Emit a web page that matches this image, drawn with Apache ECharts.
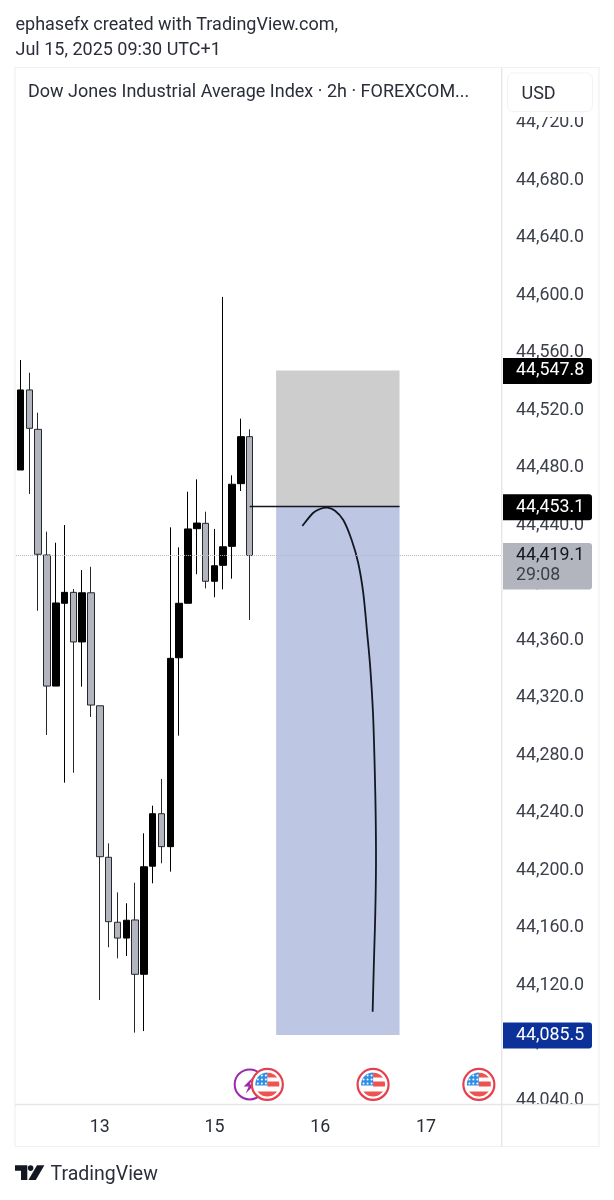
<!DOCTYPE html>
<html>
<head>
<meta charset="utf-8">
<style>
html, body { margin: 0; padding: 0; background: #fff; }
#main { width: 614px; height: 1200px; }
</style>
<script src="https://cdn.jsdelivr.net/npm/echarts@6/dist/echarts.min.js"></script>
</head>
<body>
<div id="main"></div>
<script>
// open, close, low, high
var candles = [
    [44478.6, 44534.3, 44478.6, 44555.1],
    [44534.3, 44507.6, 44461.9, 44546.3],
    [44506.9, 44420.0, 44380.7, 44518.5],
    [44419.5, 44328.3, 44294.3, 44435.7],
    [44328.3, 44386.1, 44328.3, 44428.0],
    [44385.9, 44393.5, 44261.1, 44440.3],
    [44393.5, 44359.0, 44268.0, 44395.8],
    [44359.0, 44393.2, 44327.9, 44409.0],
    [44393.2, 44315.1, 44306.8, 44411.3],
    [44314.6, 44209.6, 44109.9, 44314.6],
    [44209.2, 44164.4, 44146.6, 44218.9],
    [44164.0, 44153.0, 44138.9, 44184.8],
    [44153.0, 44165.4, 44140.5, 44177.2],
    [44165.6, 44127.8, 44087.2, 44191.5],
    [44127.8, 44202.6, 44088.3, 44225.9],
    [44203.0, 44239.5, 44191.1, 44245.1],
    [44239.5, 44216.6, 44205.0, 44263.7],
    [44216.6, 44347.6, 44199.2, 44438.7],
    [44348.0, 44385.9, 44293.8, 44424.8],
    [44385.9, 44437.6, 44385.9, 44463.5],
    [44437.8, 44441.7, 44406.1, 44472.1],
    [44441.5, 44401.2, 44396.3, 44449.6],
    [44401.2, 44412.0, 44390.1, 44437.6],
    [44412.3, 44425.2, 44395.6, 44599.0],
    [44425.5, 44468.7, 44403.0, 44474.9],
    [44469.1, 44501.8, 44464.0, 44514.3],
    [44501.8, 44419.1, 44374.3, 44506.9]
];

// hand drawn arrow, [bar index, price]
var curve = [
    [31.97, 44439.7], [33.18, 44448.7], [33.98, 44451.5], [34.80, 44452.4],
    [35.68, 44450.3], [36.62, 44443.8], [37.57, 44429.9], [38.32, 44413.7],
    [38.89, 44392.8], [39.33, 44365.0], [39.67, 44341.8], [39.99, 44309.4],
    [40.17, 44274.8], [40.29, 44240.0], [40.33, 44205.2],
    [40.25, 44170.4], [40.09, 44135.7], [39.95, 44101.8]
];

var yTicks = [44720, 44680, 44640, 44600, 44560, 44520, 44480, 44440, 44400, 44360,
    44320, 44280, 44240, 44200, 44160, 44120, 44080, 44040];
var dayLabels = {9: '13', 22: '15', 34: '16', 46: '17'};
var barCount = 55;

var positionStart = 29;
var positionEnd = 43;
var stopPrice = 44547.8;
var entryPrice = 44453.1;
var targetPrice = 44085.5;
var lastPrice = 44419.1;
var countdown = '29:08';

var splitEvents = [26];
var usEvents = [28, 40, 52];
var eventPrice = 44051.2;

var categories = [];
for (var i = 0; i < barCount; i++) {
    categories.push(dayLabels[i] || '');
}

var textColor = '#2a2e39';
var frameColor = '#f1f1f1';
var fontName = 'Roboto';

function fmt(v) {
    return v.toLocaleString('en-US', {minimumFractionDigits: 1, maximumFractionDigits: 1});
}

// price tags on the right scale
var priceTags = [
    {value: [0, stopPrice], fill: '#000000', text: '#ffffff'},
    {value: [0, entryPrice], fill: '#000000', text: '#ffffff'},
    {value: [0, lastPrice], fill: '#b2b5be', text: '#131722', sub: countdown},
    {value: [0, targetPrice], fill: '#0c3299', text: '#ffffff'}
];

function renderTag(params, api) {
    var y = api.coord([0, api.value(1)])[1] + 0.5;
    var tag = priceTags[params.dataIndex];
    var children = [{
        type: 'rect',
        shape: {x: 503, y: y - 13, width: 89, height: tag.sub ? 46.5 : 26, r: [0, 3, 3, 0]},
        style: {fill: tag.fill}
    }, {
        type: 'text',
        style: {x: 516, y: y, text: fmt(api.value(1)), fill: tag.text,
            font: '17.8px ' + fontName, textVerticalAlign: 'middle'}
    }];
    if (tag.sub) {
        children.push({
            type: 'text',
            style: {x: 516, y: y + 20, text: tag.sub, fill: '#3c404b',
                font: '17.8px ' + fontName, textVerticalAlign: 'middle'}
        });
    }
    return {type: 'group', children: children};
}

function renderSplit(params, api) {
    var p = api.coord([api.value(0), api.value(1)]);
    return {
        type: 'group', x: p[0], y: p[1],
        children: [{
            type: 'circle', shape: {cx: 0, cy: 0, r: 15},
            style: {fill: '#fff', stroke: '#9c27b0', lineWidth: 2}
        }, {
            type: 'polygon',
            shape: {points: [[3, -7], [-6, 2], [-1, 2], [-4, 9], [5, 0], [0, 0]]},
            style: {fill: '#9c27b0'}
        }]
    };
}

function renderFlag(params, api) {
    var p = api.coord([api.value(0), api.value(1)]);
    var flag = [
        {type: 'rect', shape: {x: -13, y: -13, width: 26, height: 26}, style: {fill: '#ffffff'}},
        {type: 'rect', shape: {x: 0, y: -12, width: 13, height: 5}, style: {fill: '#ef5350'}},
        {type: 'rect', shape: {x: 0, y: -3, width: 13, height: 5}, style: {fill: '#ef5350'}},
        {type: 'rect', shape: {x: -13, y: 7, width: 26, height: 6}, style: {fill: '#ef5350'}},
        {type: 'rect', shape: {x: -13, y: -13, width: 13, height: 14}, style: {fill: '#2f8fe6'}}
    ];
    for (var r = 0; r < 3; r++) {
        for (var c = 0; c < 3; c++) {
            flag.push({
                type: 'circle',
                shape: {cx: -9.5 + c * 4, cy: -9 + r * 4, r: 1},
                style: {fill: '#ffffff'}
            });
        }
    }
    return {
        type: 'group', x: p[0], y: p[1],
        children: [{
            type: 'circle', shape: {cx: 0, cy: 0, r: 15.5},
            style: {fill: '#fff', stroke: '#e5404f', lineWidth: 2.2}
        }, {
            type: 'group',
            clipPath: {type: 'circle', shape: {cx: 0, cy: 0, r: 12}},
            children: flag
        }]
    };
}

// the line series smoothing leaves kinks here, so join the readings with a spline
function renderCurve(params, api) {
    if (params.dataIndex !== 0) {
        return null;
    }
    var pts = curve.map(function (d) { return api.coord(d); });
    var path = 'M' + pts[0][0] + ' ' + pts[0][1];
    for (var i = 0; i < pts.length - 1; i++) {
        var p0 = pts[Math.max(i - 1, 0)];
        var p1 = pts[i];
        var p2 = pts[i + 1];
        var p3 = pts[Math.min(i + 2, pts.length - 1)];
        path += 'C' + (p1[0] + (p2[0] - p0[0]) / 6) + ' ' + (p1[1] + (p2[1] - p0[1]) / 6) +
            ' ' + (p2[0] - (p3[0] - p1[0]) / 6) + ' ' + (p2[1] - (p3[1] - p1[1]) / 6) +
            ' ' + p2[0] + ' ' + p2[1];
    }
    return {
        type: 'path',
        shape: {pathData: path},
        style: {fill: 'none', stroke: '#131722', lineWidth: 1.8, lineJoin: 'round'}
    };
}

var myChart = echarts.init(document.getElementById('main'), null, {renderer: 'canvas'});
var option = {
    animation: false,
    backgroundColor: '#ffffff',
    textStyle: {fontFamily: fontName},
    grid: {left: 16.1, top: 68, width: 484.8, height: 1036},
    xAxis: [
        {
            type: 'category',
            data: categories,
            axisLine: {show: false},
            axisTick: {show: false},
            splitLine: {show: false},
            axisLabel: {
                interval: function (index, value) { return value !== ''; },
                color: textColor, fontSize: 17.8, fontFamily: fontName, margin: 15
            }
        },
        {
            type: 'value',
            min: -0.5,
            max: barCount - 0.5,
            show: false
        }
    ],
    yAxis: {
        type: 'value',
        position: 'right',
        min: 44037.57,
        max: 44758.26,
        scale: true,
        axisLine: {show: false},
        axisTick: {show: false},
        splitLine: {show: false},
        axisLabel: {
            customValues: yTicks,
            formatter: function (v) { return fmt(v); },
            color: '#3c404b', fontSize: 17.8, fontFamily: fontName, margin: 15
        }
    },
    series: [
        {
            // long position tool
            type: 'line',
            xAxisIndex: 1,
            z: 1,
            data: [],
            markArea: {
                silent: true,
                data: [
                    [{coord: [positionStart, stopPrice], itemStyle: {color: '#cdcdcd'}},
                        {coord: [positionEnd, entryPrice]}],
                    [{coord: [positionStart, entryPrice], itemStyle: {color: '#bdc7e4'}},
                        {coord: [positionEnd, targetPrice]}]
                ]
            }
        },
        {
            type: 'candlestick',
            xAxisIndex: 0,
            z: 2,
            barWidth: 7,
            data: candles,
            itemStyle: {
                color: '#000000',
                color0: '#b2b5be',
                borderColor: '#000000',
                borderColor0: '#26282e',
                borderWidth: 1
            }
        },
        {
            type: 'line',
            xAxisIndex: 1,
            z: 3,
            data: [],
            markLine: {
                silent: true,
                symbol: 'none',
                label: {show: false},
                data: [
                    [{coord: [-0.5, lastPrice], lineStyle: {color: '#b2b5be', type: 'dotted', width: 1}},
                        {coord: [barCount - 0.5, lastPrice]}],
                    [{coord: [candles.length - 1, entryPrice], lineStyle: {color: '#131722', type: 'solid', width: 1.4}},
                        {coord: [positionEnd, entryPrice]}]
                ]
            }
        },
        {
            type: 'custom',
            xAxisIndex: 1,
            z: 3,
            renderItem: renderCurve,
            data: curve
        },
        {
            type: 'custom',
            xAxisIndex: 1,
            z: 4,
            renderItem: renderSplit,
            data: splitEvents.map(function (x) { return [x, eventPrice]; })
        },
        {
            type: 'custom',
            xAxisIndex: 1,
            z: 5,
            renderItem: renderFlag,
            data: usEvents.map(function (x) { return [x, eventPrice]; })
        }
    ],
    graphic: [
        // covers for the clipped scale labels
        {type: 'rect', z: 10, shape: {x: 503, y: 68, width: 95, height: 49}, style: {fill: '#fff'}},
        {type: 'rect', z: 10, shape: {x: 503, y: 1105, width: 95, height: 40}, style: {fill: '#fff'}},
        // frame
        {type: 'rect', z: 11, shape: {x: 15, y: 67.5, width: 584, height: 1079}, style: {fill: 'none', stroke: frameColor, lineWidth: 1.2}},
        {type: 'line', z: 11, shape: {x1: 501.7, y1: 67.5, x2: 501.7, y2: 1146.5}, style: {stroke: '#e6e6e6', lineWidth: 1.4}},
        {type: 'line', z: 11, shape: {x1: 15, y1: 1104.5, x2: 599, y2: 1104.5}, style: {stroke: '#e6e6e6', lineWidth: 1.4}},
        // USD button
        {type: 'rect', z: 12, shape: {x: 507.5, y: 73, width: 85, height: 38.5, r: 6}, style: {fill: '#fff', stroke: '#f3f3f3', lineWidth: 1}},
        {type: 'text', z: 13, style: {x: 521.5, y: 94, text: 'USD', fill: textColor, font: '18px ' + fontName, textVerticalAlign: 'middle'}},
        // header
        {type: 'text', z: 13, style: {x: 15.5, y: 25.5, text: 'ephasefx created with TradingView.com,', fill: textColor, font: '18px ' + fontName, textVerticalAlign: 'middle'}},
        {type: 'text', z: 13, style: {x: 15.5, y: 50.5, text: 'Jul 15, 2025 09:30 UTC+1', fill: textColor, font: '18px ' + fontName, textVerticalAlign: 'middle'}},
        {type: 'text', z: 13, style: {x: 28, y: 92, text: 'Dow Jones Industrial Average Index \u00b7 2h \u00b7 FOREXCOM...', fill: textColor, font: '18px ' + fontName, textVerticalAlign: 'middle'}},
        // footer logo
        {type: 'polygon', z: 13, shape: {points: [[15, 1165.3], [27.3, 1165.3], [27.3, 1180], [21, 1180], [21, 1170.8], [15, 1170.8]]}, style: {fill: '#131722'}},
        {type: 'circle', z: 13, shape: {cx: 30.6, cy: 1168.1, r: 2.8}, style: {fill: '#131722'}},
        {type: 'polygon', z: 13, shape: {points: [[37, 1165.3], [44.4, 1165.3], [35.8, 1180], [28.4, 1180]]}, style: {fill: '#131722'}},
        {type: 'text', z: 13, style: {x: 50.5, y: 1175.5, text: 'TradingView', fill: '#2a2e39', font: '19.5px ' + fontName, textVerticalAlign: 'middle'}}
    ]
};
// price tags go last, above the covers
option.series.push({
    type: 'custom',
    xAxisIndex: 1,
    z: 6,
    renderItem: renderTag,
    data: priceTags
});
myChart.setOption(option);
</script>
</body>
</html>
